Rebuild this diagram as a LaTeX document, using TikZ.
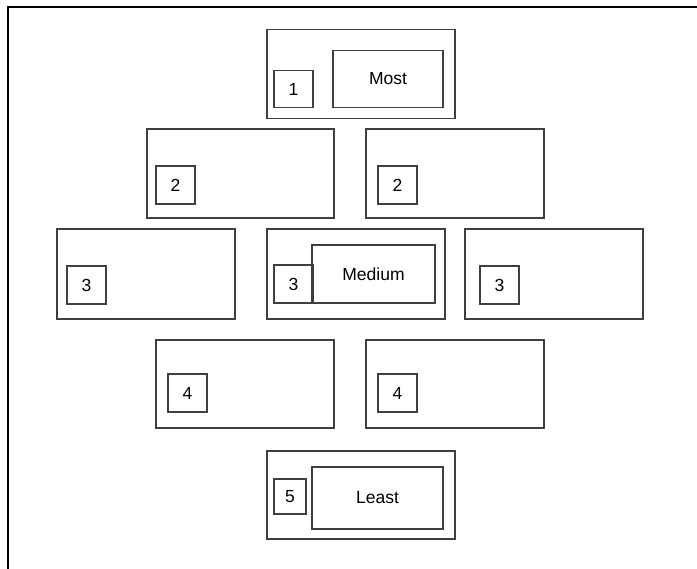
\documentclass[tikz,border=0pt]{standalone}
\usepackage{fontspec}
\setmainfont{Liberation Sans}
\usepackage{tikz}
\usetikzlibrary{positioning}

\begin{document}
\begin{tikzpicture}[
    x=1pt, y=-1pt,
    every node/.style={font=\fontsize{17.5}{20}\selectfont, inner sep=0pt},
    tier/.style={draw=black!75, line width=1.2pt, minimum width=178pt, minimum height=89pt},
    wide/.style={tier, minimum width=188pt},
    num/.style={draw=black!75, line width=1.2pt, minimum width=39pt, minimum height=38pt},
    lab/.style={draw=black!75, line width=1.2pt}
  ]
  \useasboundingbox (0,0) rectangle (697,569);
  % frame
  \draw[line width=2pt] (8,569) -- (8,7) -- (697,7);

  % outer boxes, one row per rank
  \node[wide] (t1) at (361,74) {};
  \node[tier, minimum width=187pt] (t2a) at (240.5,173.5) {};
  \node[tier] (t2b) at (455,173.5) {};
  \node[tier, minimum height=90pt] (t3a) at (146,274) {};
  \node[tier, minimum height=90pt] (t3b) at (356,274) {};
  \node[tier, minimum height=90pt] (t3c) at (554,274) {};
  \node[tier, minimum height=88pt] (t4a) at (245,384) {};
  \node[tier, minimum height=88pt] (t4b) at (455,384) {};
  \node[wide, minimum height=88pt] (t5) at (361,495) {};

  % rank numbers
  \node[num, minimum height=37pt, above right=11pt and 7pt of t1.south west] (n1) {1};
  \node[num, above right=14pt and 9pt of t2a.south west] (n2a) {2};
  \node[num, above right=14pt and 12pt of t2b.south west] (n2b) {2};
  \node[num, above right=15pt and 10pt of t3a.south west] (n3a) {3};
  \node[num, above right=16pt and 7pt of t3b.south west] (n3b) {3};
  \node[num, above right=15pt and 15pt of t3c.south west] (n3c) {3};
  \node[num, above right=16pt and 12pt of t4a.south west] (n4a) {4};
  \node[num, above right=16pt and 12pt of t4b.south west] (n4b) {4};
  \node[num, minimum width=32pt, minimum height=35pt, above right=25pt and 7pt of t5.south west] (n5) {5};

  % labels
  \node[lab, minimum width=110pt, minimum height=57pt, above left=11pt and 12pt of t1.south east] (most) {Most};
  \node[lab, minimum width=123pt, minimum height=58pt, above left=16pt and 10pt of t3b.south east] (medium) {Medium};
  \node[lab, minimum width=131pt, minimum height=62pt, above left=10pt and 12pt of t5.south east] (least) {Least};
\end{tikzpicture}
\end{document}
